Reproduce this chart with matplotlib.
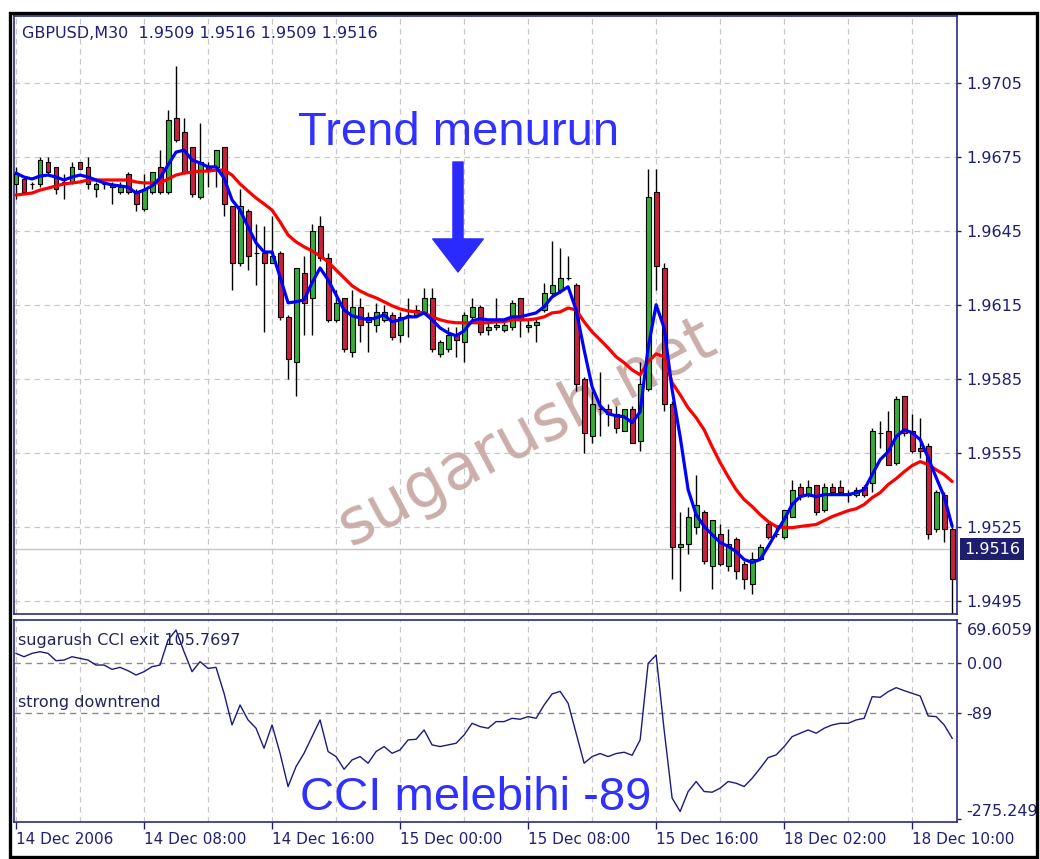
import numpy as np
import matplotlib
matplotlib.use("Agg")
import matplotlib.pyplot as plt
from matplotlib.patches import Rectangle
from matplotlib.transforms import blended_transform_factory

# GBPUSD M30 candles, 14 Dec 2006 00:00 .. 18 Dec 12:30
opens = [1.9664, 1.9666, 1.9664, 1.9664, 1.9673, 1.9671, 1.9664, 1.9665, 1.9673, 1.9671,
         1.9662, 1.9664, 1.9663, 1.9661, 1.9668, 1.9661, 1.9654, 1.9661, 1.9671, 1.9661,
         1.9691, 1.9685, 1.9679, 1.9659, 1.9671, 1.9671, 1.9679, 1.9655, 1.9632, 1.9653,
         1.9636, 1.9636, 1.9632, 1.9636, 1.9610, 1.9592, 1.9628, 1.9618, 1.9647, 1.9634,
         1.9609, 1.9618, 1.9596, 1.9614, 1.9608, 1.9607, 1.9609, 1.9611, 1.9603, 1.9611,
         1.9611, 1.9612, 1.9618, 1.9595, 1.9597, 1.9603, 1.9600, 1.9610, 1.9614, 1.9605,
         1.9606, 1.9605, 1.9606, 1.9618, 1.9606, 1.9607, 1.9613, 1.9620, 1.9621, 1.9626,
         1.9623, 1.9585, 1.9562, 1.9573, 1.9573, 1.9571, 1.9564, 1.9573, 1.9560, 1.9581,
         1.9661, 1.9630, 1.9575, 1.9517, 1.9518, 1.9525, 1.9531, 1.9509, 1.9522, 1.9509,
         1.9520, 1.9510, 1.9502, 1.9512, 1.9526, 1.9522, 1.9521, 1.9529, 1.9541, 1.9538,
         1.9542, 1.9532, 1.9541, 1.9541, 1.9538, 1.9538, 1.9541, 1.9543, 1.9563, 1.9564,
         1.9551, 1.9578, 1.9564, 1.9557, 1.9558, 1.9524, 1.9538, 1.9524]
highs = [1.9671, 1.9667, 1.9665, 1.9675, 1.9675, 1.9671, 1.9668, 1.9673, 1.9673, 1.9675,
         1.9665, 1.9665, 1.9665, 1.9665, 1.9669, 1.9662, 1.9668, 1.9669, 1.9678, 1.9694,
         1.9712, 1.9691, 1.9679, 1.9689, 1.9673, 1.9678, 1.9679, 1.9655, 1.9662, 1.9654,
         1.9648, 1.9647, 1.9651, 1.9637, 1.9611, 1.9630, 1.9635, 1.9648, 1.9651, 1.9636,
         1.9621, 1.9618, 1.9621, 1.9618, 1.9612, 1.9616, 1.9615, 1.9612, 1.9612, 1.9618,
         1.9615, 1.9622, 1.9622, 1.9601, 1.9606, 1.9606, 1.9612, 1.9618, 1.9615, 1.9608,
         1.9618, 1.9608, 1.9617, 1.9618, 1.9609, 1.9610, 1.9624, 1.9641, 1.9638, 1.9635,
         1.9624, 1.9586, 1.9580, 1.9588, 1.9575, 1.9574, 1.9573, 1.9574, 1.9592, 1.9670,
         1.9670, 1.9632, 1.9576, 1.9531, 1.9533, 1.9546, 1.9532, 1.9528, 1.9526, 1.9524,
         1.9521, 1.9511, 1.9515, 1.9518, 1.9527, 1.9525, 1.9532, 1.9544, 1.9543, 1.9544,
         1.9542, 1.9543, 1.9543, 1.9544, 1.9540, 1.9541, 1.9542, 1.9565, 1.9568, 1.9572,
         1.9578, 1.9578, 1.9571, 1.9569, 1.9559, 1.9540, 1.9539, 1.9525]
lows = [1.9658, 1.9660, 1.9662, 1.9663, 1.9668, 1.9660, 1.9658, 1.9664, 1.9670, 1.9662,
        1.9659, 1.9662, 1.9656, 1.9660, 1.9660, 1.9653, 1.9653, 1.9660, 1.9660, 1.9660,
        1.9681, 1.9668, 1.9659, 1.9658, 1.9663, 1.9663, 1.9651, 1.9621, 1.9631, 1.9629,
        1.9623, 1.9604, 1.9632, 1.9609, 1.9585, 1.9578, 1.9603, 1.9603, 1.9633, 1.9608,
        1.9608, 1.9596, 1.9594, 1.9600, 1.9596, 1.9604, 1.9608, 1.9601, 1.9600, 1.9602,
        1.9610, 1.9612, 1.9596, 1.9594, 1.9596, 1.9594, 1.9592, 1.9609, 1.9603, 1.9603,
        1.9605, 1.9604, 1.9605, 1.9602, 1.9604, 1.9600, 1.9612, 1.9619, 1.9620, 1.9625,
        1.9580, 1.9555, 1.9559, 1.9562, 1.9566, 1.9563, 1.9564, 1.9559, 1.9556, 1.9580,
        1.9621, 1.9572, 1.9504, 1.9499, 1.9514, 1.9522, 1.9510, 1.9500, 1.9509, 1.9507,
        1.9504, 1.9500, 1.9498, 1.9512, 1.9520, 1.9521, 1.9520, 1.9529, 1.9536, 1.9537,
        1.9530, 1.9531, 1.9538, 1.9538, 1.9535, 1.9537, 1.9537, 1.9539, 1.9557, 1.9550,
        1.9550, 1.9562, 1.9555, 1.9553, 1.9520, 1.9523, 1.9519, 1.9487]
closes = [1.9668, 1.9661, 1.9664, 1.9674, 1.9669, 1.9662, 1.9665, 1.9671, 1.9670, 1.9664,
          1.9664, 1.9664, 1.9664, 1.9663, 1.9661, 1.9656, 1.9662, 1.9669, 1.9661, 1.9690,
          1.9682, 1.9669, 1.9660, 1.9673, 1.9670, 1.9678, 1.9656, 1.9632, 1.9655, 1.9635,
          1.9636, 1.9632, 1.9635, 1.9610, 1.9593, 1.9630, 1.9616, 1.9645, 1.9634, 1.9609,
          1.9616, 1.9597, 1.9614, 1.9607, 1.9610, 1.9612, 1.9612, 1.9602, 1.9610, 1.9611,
          1.9613, 1.9618, 1.9597, 1.9600, 1.9603, 1.9601, 1.9611, 1.9614, 1.9604, 1.9606,
          1.9607, 1.9607, 1.9616, 1.9609, 1.9607, 1.9608, 1.9620, 1.9623, 1.9626, 1.9626,
          1.9583, 1.9563, 1.9575, 1.9573, 1.9571, 1.9565, 1.9573, 1.9559, 1.9583, 1.9659,
          1.9631, 1.9575, 1.9517, 1.9518, 1.9529, 1.9534, 1.9511, 1.9528, 1.9510, 1.9518,
          1.9507, 1.9504, 1.9512, 1.9517, 1.9521, 1.9522, 1.9532, 1.9540, 1.9538, 1.9541,
          1.9531, 1.9541, 1.9539, 1.9539, 1.9538, 1.9540, 1.9538, 1.9564, 1.9563, 1.9550,
          1.9577, 1.9563, 1.9556, 1.9556, 1.9522, 1.9539, 1.9524, 1.9504]

# moving averages
ma_fast = [1.96685, 1.96669, 1.96661, 1.96673, 1.96677, 1.96669, 1.96657, 1.96669, 1.96677, 1.96669,
           1.96657, 1.96645, 1.96637, 1.96633, 1.96628, 1.96604, 1.96616, 1.96633, 1.96665, 1.96718,
           1.96770, 1.96778, 1.96738, 1.96726, 1.96710, 1.96710, 1.96665, 1.96576, 1.96535, 1.96467,
           1.96402, 1.96365, 1.96365, 1.96264, 1.96159, 1.96163, 1.96171, 1.96240, 1.96300, 1.96252,
           1.96191, 1.96130, 1.96106, 1.96098, 1.96090, 1.96098, 1.96110, 1.96082, 1.96090, 1.96102,
           1.96102, 1.96118, 1.96090, 1.96057, 1.96037, 1.96025, 1.96045, 1.96086, 1.96094, 1.96090,
           1.96090, 1.96090, 1.96102, 1.96102, 1.96110, 1.96118, 1.96143, 1.96183, 1.96203, 1.96224,
           1.96130, 1.95968, 1.95818, 1.95742, 1.95709, 1.95701, 1.95697, 1.95673, 1.95717, 1.95976,
           1.96151, 1.96057, 1.95806, 1.95616, 1.95401, 1.95300, 1.95252, 1.95219, 1.95187, 1.95171,
           1.95150, 1.95118, 1.95106, 1.95118, 1.95171, 1.95227, 1.95280, 1.95341, 1.95373, 1.95381,
           1.95373, 1.95381, 1.95381, 1.95381, 1.95381, 1.95389, 1.95401, 1.95462, 1.95523, 1.95555,
           1.95616, 1.95644, 1.95632, 1.95604, 1.95531, 1.95450, 1.95373, 1.95252]
ma_slow = [1.96596, 1.96600, 1.96604, 1.96616, 1.96624, 1.96633, 1.96641, 1.96645, 1.96649, 1.96657,
           1.96657, 1.96657, 1.96657, 1.96657, 1.96657, 1.96649, 1.96645, 1.96645, 1.96645, 1.96661,
           1.96677, 1.96685, 1.96689, 1.96693, 1.96693, 1.96697, 1.96697, 1.96677, 1.96641, 1.96612,
           1.96584, 1.96560, 1.96535, 1.96487, 1.96434, 1.96406, 1.96386, 1.96369, 1.96349, 1.96325,
           1.96292, 1.96260, 1.96228, 1.96207, 1.96191, 1.96179, 1.96163, 1.96147, 1.96134, 1.96126,
           1.96122, 1.96118, 1.96102, 1.96090, 1.96082, 1.96078, 1.96078, 1.96078, 1.96078, 1.96078,
           1.96082, 1.96082, 1.96090, 1.96090, 1.96090, 1.96094, 1.96102, 1.96118, 1.96122, 1.96138,
           1.96130, 1.96082, 1.96041, 1.96009, 1.95976, 1.95940, 1.95916, 1.95887, 1.95867, 1.95920,
           1.95952, 1.95940, 1.95835, 1.95786, 1.95733, 1.95693, 1.95644, 1.95575, 1.95511, 1.95454,
           1.95401, 1.95361, 1.95333, 1.95300, 1.95272, 1.95252, 1.95247, 1.95247, 1.95252, 1.95256,
           1.95260, 1.95276, 1.95292, 1.95304, 1.95316, 1.95324, 1.95341, 1.95369, 1.95389, 1.95422,
           1.95446, 1.95474, 1.95499, 1.95515, 1.95503, 1.95482, 1.95462, 1.95434]

# sugarush CCI exit
cci = [16.4, 10.5, 16.4, 19.3, 16.4, 3.5, 4.7, 10.5, 7.6, 4.7,
       -4.1, -4.1, -11.7, -8.2, -14.1, -21.7, -15.8, -7.0, -4.1, 39.8,
       57.4, 19.3, -15.8, 1.8, -10.0, -8.2, -53.9, -109.5, -74.4, -100.7,
       -115.3, -150.5, -109.5, -159.3, -217.8, -182.7, -159.3, -130.0, -100.7, -156.3,
       -165.1, -187.4, -171.0, -165.1, -176.8, -156.3, -147.5, -159.3, -153.4, -135.8,
       -134.7, -118.3, -144.6, -147.5, -144.6, -141.7, -127.1, -106.6, -112.4, -115.3,
       -103.6, -103.6, -97.8, -99.5, -94.9, -97.8, -74.4, -55.0, -50.4, -71.4,
       -124.1, -176.8, -165.1, -159.8, -165.1, -159.8, -157.5, -162.8, -135.8, -1.2,
       13.5, -118.3, -238.3, -261.7, -226.6, -209.0, -226.6, -227.8, -220.7, -209.0,
       -212.0, -217.8, -203.2, -185.6, -166.9, -162.2, -147.5, -130.0, -124.1, -118.3,
       -124.1, -115.3, -109.5, -106.6, -106.6, -100.7, -97.8, -59.7, -60.9, -50.9,
       -43.9, -49.2, -53.9, -58.6, -93.7, -94.9, -109.5, -132.9]

price_ticks = [1.9495, 1.9525, 1.9555, 1.9585, 1.9615, 1.9645, 1.9675, 1.9705]
cci_ticks = [69.6059, 0.0, -89.0, -275.249]
cci_tick_labels = ["69.6059", "0.00", "-89", "-275.249"]
date_pos = [0, 16, 32, 48, 64, 80, 96, 112]
date_labels = ["14 Dec 2006", "14 Dec 08:00", "14 Dec 16:00", "15 Dec 00:00",
               "15 Dec 08:00", "15 Dec 16:00", "18 Dec 02:00", "18 Dec 10:00"]
bid = 1.9516

NAVY = "#1f1f78"
GRID = "#c8c8c8"
W, H = 1040, 859

plt.rcParams["font.family"] = ["DejaVu Sans"]

fig = plt.figure(figsize=(W / 100, H / 100), dpi=100)
fig.patch.set_facecolor("white")

ax = fig.add_axes([14 / W, 1 - 614 / H, 943 / W, 598 / H])
ax2 = fig.add_axes([14 / W, 1 - 822 / H, 943 / W, 202 / H])

x = np.arange(len(opens))
o = np.array(opens)
c = np.array(closes)

# grid
for a in (ax, ax2):
    for g in range(0, 118, 8):
        a.axvline(g, color=GRID, lw=0.9, ls=(0, (4.5, 3.5)), zorder=0.6)
for p in price_ticks:
    ax.axhline(p, color=GRID, lw=0.9, ls=(0, (4.5, 3.5)), zorder=0.6)

# bid line
ax.axhline(bid, color="#c4c4c4", lw=1.0, zorder=0.7)

# watermark
ax.text(527 / W, 1 - 432 / H, "sugarush.net", transform=fig.transFigure, rotation=28,
        fontsize=46, color="#cbaea9", ha="center", va="center", zorder=0.8)

# candles
body_col = np.where(c >= o, "#33b033", "#c8203c")
ax.vlines(x, lows, highs, color="black", lw=1.0, zorder=2)
ax.bar(x, np.abs(c - o), bottom=np.minimum(o, c), width=0.62, color=body_col,
       edgecolor="black", linewidth=0.8, zorder=3)

# moving averages
ax.plot(x, ma_slow, color="#ff0000", lw=2.3, zorder=4, solid_capstyle="round")
ax.plot(x, ma_fast, color="#0000ff", lw=2.3, zorder=5, solid_capstyle="round")

ax.set_xlim(-0.25, 117.6)
ax.set_ylim(1.94897, 1.97322)
ax.set_xticks([])
ax.yaxis.tick_right()
ax.set_yticks(price_ticks)
ax.set_yticklabels([f"{p:.4f}" for p in price_ticks])
ax.tick_params(axis="y", direction="out", length=3, width=1, colors=NAVY,
               labelsize=11.5, pad=4)

# bid box
tr = blended_transform_factory(ax.transAxes, ax.transData)
ax.text(1.0 + 7 / 943, bid, f"{bid:.4f}", transform=tr, ha="left", va="center",
        color="white", fontsize=11.5, zorder=10, clip_on=False,
        bbox=dict(boxstyle="square,pad=0.22", fc="#1e1e6e", ec="none"))

# CCI panel
ax2.axhline(0, color="#8a8a8a", lw=1.0, ls=(0, (4.5, 3.5)), zorder=1)
ax2.axhline(-89, color="#8a8a8a", lw=1.0, ls=(0, (4.5, 3.5)), zorder=1)
ax2.plot(x, cci, color="#1a1a80", lw=1.0, zorder=3)
ax2.set_xlim(-0.25, 117.6)
ax2.set_ylim(-280.2, 75.1)
ax2.yaxis.tick_right()
ax2.set_yticks(cci_ticks)
ax2.set_yticklabels(cci_tick_labels)
ax2.tick_params(axis="y", direction="out", length=3, width=1, colors=NAVY,
                labelsize=11.5, pad=4)
yl = ax2.get_yticklabels()
yl[0].set_va("top")
yl[-1].set_va("bottom")
ax2.set_xticks(date_pos)
ax2.set_xticklabels(date_labels)
ax2.tick_params(axis="x", direction="out", length=5, width=1, colors=NAVY,
                labelsize=11, pad=2)
for lbl in ax2.get_xticklabels():
    lbl.set_ha("left")

ax2.text(18 / W, 1 - 641 / H, "sugarush CCI exit 105.7697", transform=fig.transFigure,
         fontsize=11.5, color="#24245a", va="center", ha="left", zorder=6)
ax2.text(18 / W, 1 - 702 / H, "strong downtrend", transform=fig.transFigure,
         fontsize=11.5, color="#24245a", va="center", ha="left", zorder=6)

for a in (ax, ax2):
    for s in a.spines.values():
        s.set_color("#2a2a8a")
        s.set_linewidth(1.2)
    a.set_facecolor("white")

# header
fig.text(22 / W, 1 - 33 / H, "GBPUSD,M30  1.9509 1.9516 1.9509 1.9516",
         fontsize=11.5, color=NAVY, va="center", ha="left")

# annotations
fig.text(298 / W, 1 - 145 / H, "Trend menurun", fontsize=34, family="Liberation Sans",
         color="#3030ff", va="baseline", ha="left")
fig.text(300 / W, 1 - 810 / H, "CCI melebihi -89", fontsize=34, family="Liberation Sans",
         color="#3030ff", va="baseline", ha="left")
ax.annotate("", xy=(458, H - 272), xycoords="figure pixels",
            xytext=(458, H - 162), textcoords="figure pixels",
            arrowprops=dict(arrowstyle="simple,head_length=0.85,head_width=1.3,tail_width=0.26",
                            mutation_scale=28, color="#2a2aff", shrinkA=0, shrinkB=0),
            zorder=8)

# outer window frame
fig.add_artist(Rectangle((9.5 / W, 1 - 857 / H), 1027.5 / W, 844 / H,
                         transform=fig.transFigure, fill=False, ec="black", lw=2.4))

fig.savefig("out.png", dpi=100)
